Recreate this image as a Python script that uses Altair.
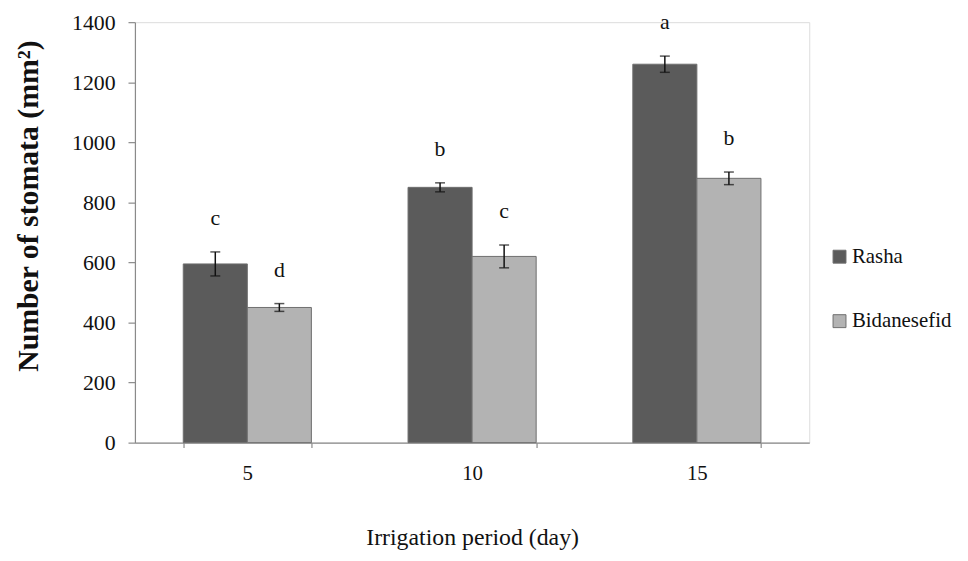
import altair as alt
import pandas as pd

periods = ["5", "10", "15"]
varieties = ["Rasha", "Bidanesefid"]
rasha = [595, 850, 1260]
bidanesefid = [450, 620, 880]
rasha_err = [40, 15, 27]
bidanesefid_err = [13, 38, 21]
rasha_letters = ["c", "b", "a"]
bidanesefid_letters = ["d", "c", "b"]

rows = []
for i, p in enumerate(periods):
    rows.append(dict(period=p, variety="Rasha", value=rasha[i], err=rasha_err[i], letter=rasha_letters[i]))
    rows.append(dict(period=p, variety="Bidanesefid", value=bidanesefid[i], err=bidanesefid_err[i], letter=bidanesefid_letters[i]))
df = pd.DataFrame(rows)
df["lo"] = df["value"] - df["err"]
df["hi"] = df["value"] + df["err"]

FONT = "Liberation Serif"
INK = "#111111"
AX = "#8a8a8a"

x_enc = alt.X("period:N", sort=periods, title="Irrigation period (day)",
              scale=alt.Scale(paddingInner=0.43, paddingOuter=0.215),
              axis=alt.Axis(labelAngle=0, tickBand="extent", tickSize=5, labelPadding=15,
                            titlePadding=43, labelFontSize=21, titleFontSize=24,
                            titleFontWeight="normal", labelFont=FONT, titleFont=FONT,
                            labelColor=INK, titleColor=INK, domainColor=AX, tickColor=AX,
                            domainWidth=1.2, tickWidth=1.2))
xo = alt.XOffset("variety:N", sort=varieties, scale=alt.Scale(paddingInner=0, paddingOuter=0))
y_scale = alt.Scale(domain=[0, 1400])

base = alt.Chart(df)

bars = base.mark_bar(stroke="#6e6e6e", strokeWidth=1).encode(
    x=x_enc,
    xOffset=xo,
    y=alt.Y("value:Q", scale=y_scale, title="Number of stomata (mm²)",
            axis=alt.Axis(values=list(range(0, 1401, 200)), format="d", tickSize=7, labelPadding=13,
                          titlePadding=28, titleY=185, grid=False, labelFontSize=22, titleFontSize=30,
                          titleFontWeight="bold", labelFont=FONT, titleFont=FONT,
                          labelColor=INK, titleColor=INK, domainColor=AX, tickColor=AX,
                          domainWidth=1.2, tickWidth=1.2)),
    color=alt.Color("variety:N", sort=varieties,
                    scale=alt.Scale(domain=varieties, range=["#5b5b5b", "#b3b3b3"]),
                    legend=alt.Legend(title=None, orient="none", legendX=700, legendY=226,
                                      symbolType="square", symbolSize=170,
                                      symbolStrokeColor="#6e6e6e", symbolStrokeWidth=1,
                                      labelFont=FONT, labelFontSize=21, labelColor=INK,
                                      rowPadding=43, labelOffset=2)),
)

rules = base.mark_rule(color=INK, strokeWidth=1.5).encode(
    x=alt.X("period:N", sort=periods), xOffset=xo,
    y=alt.Y("lo:Q", scale=y_scale), y2="hi:Q",
)
caps_hi = base.mark_tick(color=INK, thickness=1.5, size=10).encode(
    x=alt.X("period:N", sort=periods), xOffset=xo, y=alt.Y("hi:Q", scale=y_scale),
)
caps_lo = base.mark_tick(color=INK, thickness=1.5, size=10).encode(
    x=alt.X("period:N", sort=periods), xOffset=xo, y=alt.Y("lo:Q", scale=y_scale),
)
letters = base.mark_text(font=FONT, fontSize=22, color=INK, dy=-27, baseline="alphabetic").encode(
    x=alt.X("period:N", sort=periods), xOffset=xo, y=alt.Y("hi:Q", scale=y_scale),
    text="letter:N",
)

chart = alt.layer(bars, rules, caps_hi, caps_lo, letters).properties(
    width=680, height=424,
    autosize=alt.AutoSizeParams(type="none"),
    padding={"left": 128, "top": 12, "right": 152, "bottom": 108},
).configure_view(stroke=None).configure(background="white")

chart.save("out.html", embed_options={"renderer": "svg", "actions": False})
